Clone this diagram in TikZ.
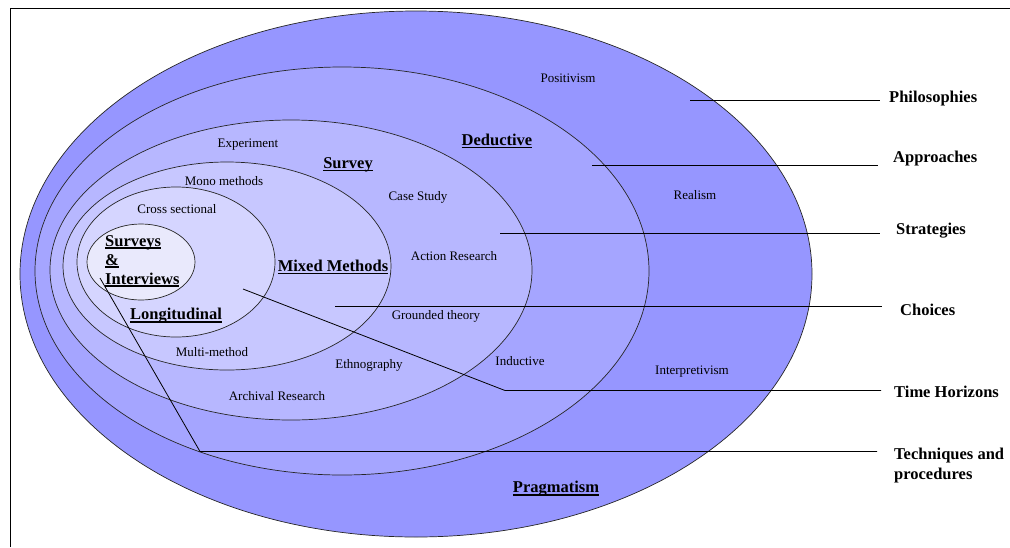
\documentclass[tikz,border=0pt]{standalone}
\usepackage{fontspec}
\setmainfont{Liberation Serif}
\usetikzlibrary{positioning}

\definecolor{ringA}{RGB}{150,150,255}
\definecolor{ringB}{RGB}{165,165,255}
\definecolor{ringC}{RGB}{183,183,255}
\definecolor{ringD}{RGB}{199,199,255}
\definecolor{ringE}{RGB}{213,213,255}
\definecolor{ringF}{RGB}{233,233,252}

% heavier underline for the headings
\newsavebox{\ulbox}
\newcommand{\ulhead}[1]{\sbox{\ulbox}{#1}\rlap{\rule[-2.6pt]{\wd\ulbox}{1.3pt}}\usebox{\ulbox}}

\tikzset{
  ring/.style={draw=black!85,line width=0.7pt},
  tag/.style={inner sep=1pt,font=\fontsize{13}{15}\selectfont},
  head/.style={inner sep=1pt,font=\fontsize{16.5}{19}\selectfont\bfseries},
  side/.style={anchor=west,inner sep=2pt,align=left,font=\fontsize{16.5}{20}\selectfont\bfseries},
  leader/.style={line width=0.8pt}
}

\begin{document}
\begin{tikzpicture}[x=1pt,y=-1pt]
	\useasboundingbox (0,0) rectangle (1010,547);
	\draw[line width=0.8pt] (10,547) -- (10,8) -- (1010,8);
	% the onion, outside in
	\draw[ring,fill=ringA] (416,274) ellipse [x radius=396,y radius=263];
	\draw[ring,fill=ringB] (342,271) ellipse [x radius=307,y radius=204];
	\draw[ring,fill=ringC] (291,270) ellipse [x radius=241,y radius=150];
	\draw[ring,fill=ringD] (227,266) ellipse [x radius=164,y radius=104];
	\draw[ring,fill=ringE] (176,262) ellipse [x radius=99,y radius=75];
	\draw[ring,fill=ringF] (141,262) ellipse [x radius=54,y radius=38];
	% philosophies
	\node[tag] (posit) at (568,78) {Positivism};
	\node[tag] (real) at (695,195) {Realism};
	\node[tag] (interp) at (692,372) {Interpretivism};
	\node[head] (pragm) at (556,489) {\ulhead{Pragmatism}};
	% approaches
	\node[head] (deduc) at (497,141) {\ulhead{Deductive}};
	\node[tag] (induc) at (520,361) {Inductive};
	% strategies
	\node[tag] (exper) at (248,145) {Experiment};
	\node[head] (surv) at (348,165) {\ulhead{Survey}};
	\node[tag] (case) at (418,197) {Case Study};
	\node[tag] (action) at (454,256) {Action Research};
	\node[tag] (ground) at (436,316) {Grounded theory};
	\node[tag] (ethno) at (369,365) {Ethnography};
	\node[tag] (archiv) at (277,396) {Archival Research};
	% choices
	\node[tag] (mono) at (224,181) {Mono methods};
	\node[head] (mixed) at (333,267) {\ulhead{Mixed Methods}};
	\node[tag] (multi) at (212,352) {Multi-method};
	% time horizons
	\node[tag] (cross) at (177,209) {Cross sectional};
	\node[head] (longi) at (176,316) {\ulhead{Longitudinal}};
	% techniques
	\node[head,anchor=west,align=left] (sandi) at (104,261)
		{\ulhead{Surveys}\\\ulhead{\&}\\\ulhead{Interviews}};
	% layer names on the right
	\node[side] (phil) at (887,99) {Philosophies};
	\node[side] (appr) at (891,159) {Approaches};
	\node[side] (strat) at (894,231) {Strategies};
	\node[side] (choic) at (898,310) {Choices};
	\node[side] (timeh) at (892,392) {Time Horizons};
	\node[side] (techp) at (892,466) {Techniques and\\procedures};
	% leader lines
	\path (690,100) coordinate (philS) (880,100) coordinate (philE);
	\path (592,165) coordinate (apprS) (878,165) coordinate (apprE);
	\path (500,233) coordinate (stratS) (880,233) coordinate (stratE);
	\path (335,306) coordinate (choicS) (882,306) coordinate (choicE);
	\path (243,289) coordinate (timeS) (505,390.5) coordinate (timeB) (881,390.5) coordinate (timeE);
	\path (100,278) coordinate (techS) (200,451.5) coordinate (techB) (877,451.5) coordinate (techE);
	\draw[leader] (philS) -- (philE);
	\draw[leader] (apprS) -- (apprE);
	\draw[leader] (stratS) -- (stratE);
	\draw[leader] (choicS) -- (choicE);
	\draw[leader] (timeS) -- (timeB) -- (timeE);
	\draw[leader] (techS) -- (techB) -- (techE);
\end{tikzpicture}
\end{document}
